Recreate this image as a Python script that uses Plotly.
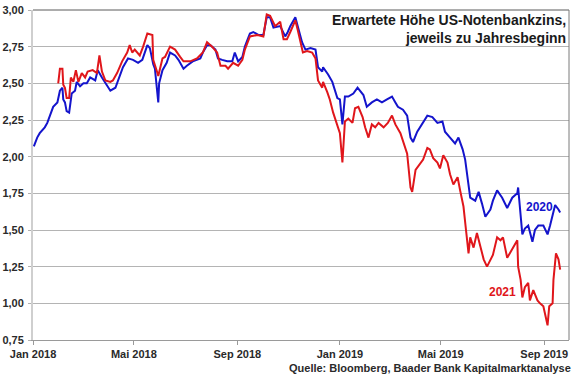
import plotly.graph_objects as go

# ---- Data ----
dates_2020 = [
    "2018-01-02", "2018-01-06", "2018-01-09", "2018-01-15", "2018-01-18", "2018-01-21", "2018-01-25", "2018-01-30",
    "2018-02-02", "2018-02-05", "2018-02-06", "2018-02-08", "2018-02-10", "2018-02-13", "2018-02-16", "2018-02-20",
    "2018-02-22", "2018-02-26", "2018-03-02", "2018-03-06", "2018-03-10", "2018-03-16", "2018-03-19", "2018-03-24",
    "2018-03-28", "2018-03-30", "2018-04-03", "2018-04-09", "2018-04-12", "2018-04-18", "2018-04-24", "2018-04-30",
    "2018-05-06", "2018-05-11", "2018-05-17", "2018-05-20", "2018-05-24", "2018-05-26", "2018-05-30", "2018-05-31",
    "2018-06-04", "2018-06-09", "2018-06-13", "2018-06-19", "2018-06-23", "2018-06-29", "2018-07-03", "2018-07-10",
    "2018-07-19", "2018-07-22", "2018-07-27", "2018-07-31", "2018-08-06", "2018-08-09", "2018-08-14", "2018-08-20",
    "2018-08-26", "2018-08-29", "2018-09-02", "2018-09-07", "2018-09-10", "2018-09-16", "2018-09-20", "2018-09-26",
    "2018-10-02", "2018-10-06", "2018-10-10", "2018-10-14", "2018-10-22", "2018-10-28", "2018-10-31", "2018-11-03",
    "2018-11-09", "2018-11-12", "2018-11-17", "2018-11-21", "2018-11-27", "2018-12-03", "2018-12-06", "2018-12-11",
    "2018-12-12", "2018-12-18", "2018-12-23", "2018-12-29", "2019-01-01", "2019-01-04", "2019-01-07", "2019-01-11",
    "2019-01-17", "2019-01-22", "2019-01-25", "2019-01-29", "2019-02-02", "2019-02-08", "2019-02-14", "2019-02-20",
    "2019-02-26", "2019-03-04", "2019-03-08", "2019-03-11", "2019-03-17", "2019-03-22", "2019-03-26", "2019-03-29",
    "2019-04-03", "2019-04-09", "2019-04-15", "2019-04-21", "2019-04-27", "2019-05-03", "2019-05-06", "2019-05-12",
    "2019-05-18", "2019-05-22", "2019-05-27", "2019-05-30", "2019-06-03", "2019-06-05", "2019-06-11", "2019-06-15",
    "2019-06-19", "2019-06-23", "2019-06-29", "2019-07-02", "2019-07-07", "2019-07-13", "2019-07-19", "2019-07-25",
    "2019-07-31", "2019-08-01", "2019-08-06", "2019-08-09", "2019-08-13", "2019-08-18", "2019-08-21", "2019-08-25",
    "2019-08-31", "2019-09-05", "2019-09-08", "2019-09-14", "2019-09-18", "2019-09-20",
]
values_2020 = [
    2.07, 2.13, 2.16, 2.20, 2.23, 2.28, 2.34, 2.37,
    2.45, 2.47, 2.39, 2.37, 2.31, 2.30, 2.43, 2.45,
    2.51, 2.48, 2.50, 2.50, 2.54, 2.52, 2.59, 2.54,
    2.50, 2.48, 2.45, 2.47, 2.52, 2.61, 2.67, 2.66,
    2.64, 2.66, 2.76, 2.74, 2.63, 2.60, 2.37, 2.50,
    2.59, 2.64, 2.71, 2.69, 2.66, 2.60, 2.62, 2.65,
    2.67, 2.71, 2.76, 2.76, 2.73, 2.67, 2.66, 2.65,
    2.65, 2.71, 2.65, 2.68, 2.75, 2.84, 2.85, 2.83,
    2.83, 2.95, 2.95, 2.88, 2.89, 2.82, 2.85, 2.89,
    2.95, 2.89, 2.78, 2.73, 2.74, 2.73, 2.61, 2.58,
    2.61, 2.56, 2.51, 2.40, 2.39, 2.22, 2.41, 2.41,
    2.43, 2.47, 2.45, 2.42, 2.34, 2.37, 2.39, 2.37,
    2.39, 2.41, 2.37, 2.34, 2.32, 2.28, 2.13, 2.10,
    2.17, 2.23, 2.28, 2.27, 2.23, 2.24, 2.17, 2.13,
    2.09, 2.13, 2.05, 1.98, 1.80, 1.72, 1.70, 1.76,
    1.68, 1.59, 1.64, 1.70, 1.77, 1.72, 1.65, 1.72,
    1.75, 1.79, 1.47, 1.51, 1.53, 1.42, 1.50, 1.53,
    1.53, 1.47, 1.53, 1.67, 1.64, 1.62,
]

dates_2021 = [
    "2018-01-31", "2018-02-02", "2018-02-05", "2018-02-06", "2018-02-08", "2018-02-10", "2018-02-13", "2018-02-15",
    "2018-02-18", "2018-02-21", "2018-02-24", "2018-02-28", "2018-03-04", "2018-03-07", "2018-03-13", "2018-03-18",
    "2018-03-21", "2018-03-24", "2018-03-28", "2018-04-03", "2018-04-06", "2018-04-11", "2018-04-17", "2018-04-23",
    "2018-04-26", "2018-04-29", "2018-05-02", "2018-05-08", "2018-05-12", "2018-05-17", "2018-05-23", "2018-05-24",
    "2018-05-29", "2018-05-30", "2018-06-04", "2018-06-07", "2018-06-13", "2018-06-19", "2018-06-25", "2018-06-29",
    "2018-07-07", "2018-07-15", "2018-07-22", "2018-07-27", "2018-08-02", "2018-08-08", "2018-08-12", "2018-08-18",
    "2018-08-21", "2018-08-27", "2018-09-02", "2018-09-07", "2018-09-10", "2018-09-16", "2018-09-25", "2018-10-02",
    "2018-10-06", "2018-10-10", "2018-10-16", "2018-10-22", "2018-10-26", "2018-10-30", "2018-11-03", "2018-11-09",
    "2018-11-12", "2018-11-18", "2018-11-23", "2018-11-29", "2018-12-03", "2018-12-06", "2018-12-11", "2018-12-12",
    "2018-12-17", "2018-12-20", "2018-12-24", "2018-12-30", "2019-01-01", "2019-01-04", "2019-01-07", "2019-01-11",
    "2019-01-16", "2019-01-19", "2019-01-23", "2019-01-28", "2019-01-31", "2019-02-04", "2019-02-08", "2019-02-12",
    "2019-02-16", "2019-02-22", "2019-02-27", "2019-03-04", "2019-03-08", "2019-03-14", "2019-03-17", "2019-03-22",
    "2019-03-26", "2019-03-28", "2019-04-01", "2019-04-07", "2019-04-10", "2019-04-15", "2019-04-18", "2019-04-22",
    "2019-04-27", "2019-04-30", "2019-05-04", "2019-05-09", "2019-05-12", "2019-05-16", "2019-05-21", "2019-05-24",
    "2019-05-28", "2019-05-31", "2019-06-03", "2019-06-05", "2019-06-09", "2019-06-13", "2019-06-17", "2019-06-21",
    "2019-06-25", "2019-06-29", "2019-07-02", "2019-07-07", "2019-07-11", "2019-07-14", "2019-07-19", "2019-07-23",
    "2019-07-26", "2019-07-31", "2019-08-01", "2019-08-04", "2019-08-06", "2019-08-09", "2019-08-13", "2019-08-15",
    "2019-08-19", "2019-08-24", "2019-08-27", "2019-08-31", "2019-09-05", "2019-09-07", "2019-09-11", "2019-09-12",
    "2019-09-15", "2019-09-18", "2019-09-20",
]
values_2021 = [
    2.50, 2.60, 2.60, 2.49, 2.47, 2.40, 2.40, 2.54,
    2.51, 2.59, 2.51, 2.57, 2.54, 2.58, 2.59, 2.57,
    2.69, 2.58, 2.52, 2.51, 2.52, 2.57, 2.65, 2.71,
    2.76, 2.71, 2.73, 2.69, 2.75, 2.84, 2.83, 2.66,
    2.57, 2.55, 2.67, 2.68, 2.75, 2.73, 2.68, 2.65,
    2.65, 2.67, 2.71, 2.78, 2.75, 2.71, 2.62, 2.62,
    2.60, 2.64, 2.62, 2.66, 2.73, 2.82, 2.83, 2.82,
    2.97, 2.96, 2.89, 2.92, 2.80, 2.80, 2.85, 2.93,
    2.86, 2.71, 2.72, 2.71, 2.67, 2.52, 2.47, 2.51,
    2.44, 2.39, 2.30, 2.20, 2.16, 1.96, 2.24, 2.26,
    2.23, 2.33, 2.34, 2.27, 2.20, 2.13, 2.22, 2.20,
    2.23, 2.20, 2.23, 2.28, 2.22, 2.16, 2.11, 2.02,
    1.79, 1.76, 1.91, 1.96, 1.98, 2.06, 2.05, 1.99,
    1.96, 1.92, 2.01, 1.96, 1.88, 1.81, 1.86, 1.77,
    1.66, 1.50, 1.34, 1.45, 1.38, 1.48, 1.38, 1.30,
    1.25, 1.30, 1.33, 1.45, 1.43, 1.45, 1.31, 1.35,
    1.38, 1.43, 1.25, 1.16, 1.04, 1.11, 1.14, 1.02,
    1.09, 1.02, 1.00, 0.98, 0.85, 0.98, 1.00, 1.16,
    1.34, 1.30, 1.23,
]

y_ticks = [0.75, 1.00, 1.25, 1.50, 1.75, 2.00, 2.25, 2.50, 2.75, 3.00]
y_tick_labels = ["0,75", "1,00", "1,25", "1,50", "1,75", "2,00", "2,25", "2,50", "2,75", "3,00"]
x_ticks = ["2018-01-01", "2018-05-01", "2018-09-01", "2019-01-01", "2019-05-01", "2019-09-01"]
x_tick_labels = ["Jan 2018", "Mai 2018", "Sep 2018", "Jan 2019", "Mai 2019", "Sep 2019"]

BLUE = "#1414cc"
RED = "#e0161b"
TXT = "#2a2a2a"
FONT = "Liberation Sans, Arial, sans-serif"

fig = go.Figure()
fig.add_trace(go.Scatter(x=dates_2020, y=values_2020, mode="lines",
                         line=dict(color=BLUE, width=2), name="2020"))
fig.add_trace(go.Scatter(x=dates_2021, y=values_2021, mode="lines",
                         line=dict(color=RED, width=2), name="2021"))

fig.update_layout(
    width=580, height=375,
    margin=dict(l=33, r=11, t=10, b=35),
    paper_bgcolor="white", plot_bgcolor="white",
    showlegend=False,
    font=dict(family=FONT, size=11, color=TXT),
    xaxis=dict(
        type="date",
        range=["2018-01-01", "2019-09-30 12:00"],
        tickvals=x_ticks, ticktext=x_tick_labels,
        tickfont=dict(family=FONT, size=11, color=TXT, weight="bold"),
        ticks="outside", ticklen=4, tickcolor="#9a9a9a", tickwidth=1,
        showgrid=False, zeroline=False, automargin=False,
        showline=True, linecolor="#9a9a9a", linewidth=1,
    ),
    yaxis=dict(
        range=[0.75, 3.0],
        tickvals=y_ticks, ticktext=y_tick_labels,
        tickfont=dict(family=FONT, size=11, color=TXT, weight="bold"),
        ticks="outside", ticklen=3, tickcolor="#b0b0b0",
        ticklabelstandoff=2, automargin=False,
        showgrid=True, gridcolor="#b4b4b4", gridwidth=1,
        zeroline=False,
        showline=True, linecolor="#cfcfcf", linewidth=2,
    ),
    shapes=[
        dict(type="line", xref="paper", yref="paper", x0=0, x1=1, y0=1, y1=1,
             line=dict(color="#5a5a5a", width=1)),
        dict(type="line", xref="paper", yref="paper", x0=1, x1=1, y0=0, y1=1,
             line=dict(color="#7a7a7a", width=1)),
    ],
    annotations=[
        dict(xref="paper", yref="paper", x=0.9985, y=1.0, xanchor="right", yanchor="top",
             text="Erwartete Höhe US-Notenbankzins,<br>jeweils zu Jahresbeginn",
             showarrow=False, align="right",
             font=dict(family=FONT, size=14, color="#1a1a1a", weight="bold")),
        dict(x="2019-08-26", y=1.66, xref="x", yref="y", text="2020", showarrow=False,
             font=dict(family=FONT, size=12, color=BLUE, weight="bold")),
        dict(x="2019-07-13", y=1.08, xref="x", yref="y", text="2021", showarrow=False,
             font=dict(family=FONT, size=12, color=RED, weight="bold")),
        dict(xref="paper", yref="paper", x=1.0075, y=0.0, xanchor="right", yanchor="top",
             yshift=-20,
             text="Quelle: Bloomberg, Baader Bank Kapitalmarktanalyse", showarrow=False,
             font=dict(family=FONT, size=11, color=TXT, weight="bold")),
    ],
)

fig.write_html("out.html", config={"displayModeBar": False},
               post_script="document.body.style.margin='0';")
